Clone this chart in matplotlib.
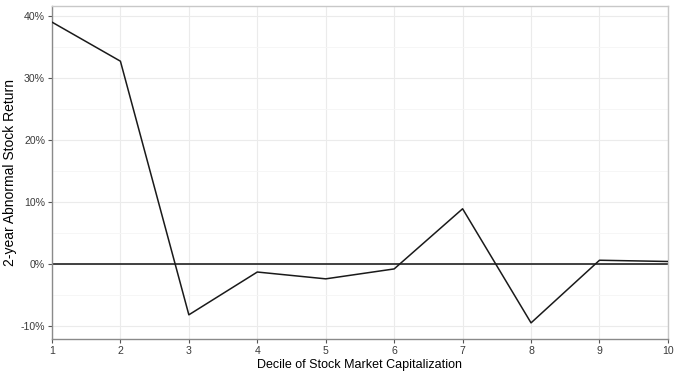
import matplotlib
matplotlib.use('Agg')
import matplotlib.pyplot as plt
from matplotlib.ticker import FuncFormatter, MultipleLocator

plt.rcParams['font.family'] = ['Liberation Sans', 'DejaVu Sans']

# decile of market cap vs 2-year abnormal return (fraction)
deciles = [1, 2, 3, 4, 5, 6, 7, 8, 9, 10]
abn_return = [0.390, 0.327, -0.082, -0.013, -0.024, -0.008, 0.089, -0.095, 0.006, 0.004]
y_ticks = [-0.10, 0.0, 0.10, 0.20, 0.30, 0.40]

fig = plt.figure(figsize=(6.75, 3.75), dpi=100)
ax = fig.add_axes([0.077, 0.096, 0.9125, 0.888])

ax.plot(deciles, abn_return, color='#1a1a1a', lw=1.1, zorder=3)
ax.axhline(0, color='#333333', lw=1.3, zorder=2)

ax.set_xlim(1, 10)
ax.set_ylim(-0.121, 0.416)
ax.set_xticks(deciles)
ax.set_yticks(y_ticks)
ax.yaxis.set_minor_locator(MultipleLocator(0.05))
ax.yaxis.set_major_formatter(FuncFormatter(lambda v, p: f'{v*100:.0f}%'))

ax.grid(True, which='major', color='#ebebeb', lw=0.8)
ax.grid(True, which='minor', axis='y', color='#f5f5f5', lw=0.6)
ax.set_axisbelow(True)

for side in ['top', 'right']:
    ax.spines[side].set_color('#c8c8c8')
for side in ['left', 'bottom']:
    ax.spines[side].set_color('#8a8a8a')
for s in ax.spines.values():
    s.set_linewidth(1.0)

ax.tick_params(which='major', length=3, color='#555555', labelsize=7.6, labelcolor='#3a3a3a', pad=2)
ax.tick_params(which='minor', length=0)

ax.set_xlabel('Decile of Stock Market Capitalization', fontsize=9, labelpad=2)
ax.set_ylabel('2-year Abnormal Stock Return', fontsize=10)
ax.yaxis.set_label_coords(-0.056, 0.5)

fig.savefig('out.png', dpi=100)
